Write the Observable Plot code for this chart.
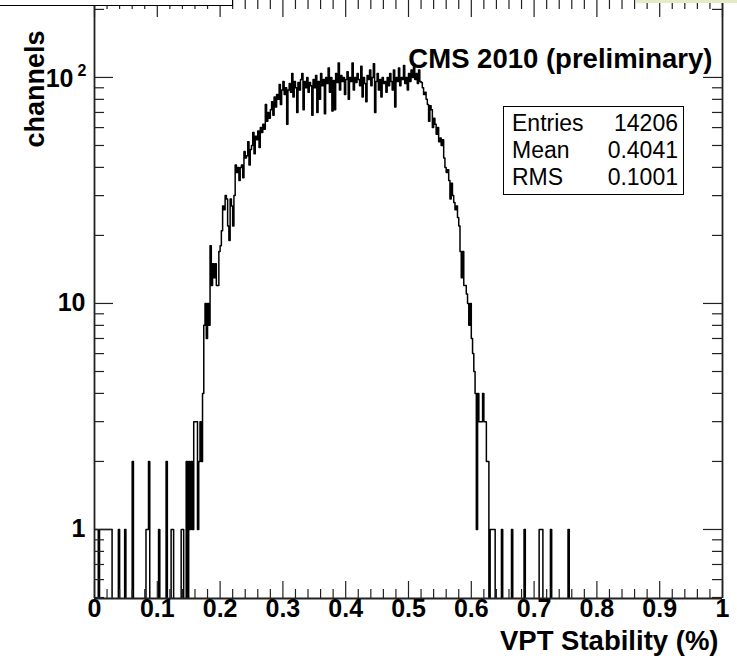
<!DOCTYPE html>
<html>
<head>
<meta charset="utf-8">
<script src="https://cdn.jsdelivr.net/npm/d3@7"></script>
<script src="https://cdn.jsdelivr.net/npm/@observablehq/plot@0.6"></script>
<style>
  html, body { margin: 0; padding: 0; background: #fff; }
  #chart { position: relative; width: 737px; height: 668px; overflow: hidden; font-family: "Liberation Sans", Arial, sans-serif; }
  #chart svg { position: absolute; left: 0; top: 0; }
  .stats { position: absolute; left: 503px; top: 106px; width: 179px; height: 84px; border: 1.5px solid #000; background: #fff; padding: 3px 0 0 0; box-sizing: content-box; }
  .stats .row { display: flex; justify-content: space-between; height: 27px; line-height: 27px; font-size: 23px; padding: 0 5px 0 8px; }
  .namebox { position: absolute; left: -2px; top: -40px; width: 233px; height: 44px; border: 1.5px solid #000; background: #fff; }
  .corner { position: absolute; left: 636px; top: 0; width: 101px; height: 3px; background: #e6eac6; }
</style>
</head>
<body>
<div id="chart"></div>
<script>
// ---------------- data ----------------
const binWidth = 0.002;           // 500 bins on [0, 1]
const nBins = 500;

// sparse low tail: [bin start, channels]
const lowTail = [
  [0.000, 1], [0.002, 1], [0.004, 1], [0.008, 1], [0.010, 1], [0.012, 1], [0.014, 1],
  [0.016, 1], [0.018, 1], [0.020, 1], [0.022, 1], [0.024, 1], [0.026, 1],
  [0.038, 1], [0.048, 1], [0.060, 2], [0.082, 1], [0.084, 1], [0.086, 2],
  [0.102, 1], [0.114, 2], [0.122, 1], [0.124, 1], [0.138, 1], [0.140, 1], [0.146, 2]
];

// main body, consecutive bins starting at coreStart
const coreStart = 0.150;
const coreCounts = [
  2, 1, 2, 1, 3, 3, 3, 1, 2, 3,
  2, 4, 8, 10, 7, 10, 8, 18, 12, 15,
  13, 15, 12, 12, 17, 18, 21, 27, 26, 30,
  29, 22, 19, 29, 27, 22, 30, 41, 38, 40,
  35, 40, 41, 36, 47, 44, 45, 52, 41, 48,
  50, 57, 46, 55, 53, 58, 49, 60, 57, 62,
  59, 76, 64, 70, 66, 72, 78, 68, 82, 74,
  84, 80, 93, 76, 88, 96, 84, 90, 62, 88,
  94, 86, 104, 82, 96, 90, 70, 95, 88, 98,
  104, 72, 96, 90, 100, 86, 95, 92, 68, 98,
  90, 102, 70, 96, 80, 104, 92, 98, 69, 100,
  94, 110, 86, 100, 71, 97, 72, 104, 95, 116,
  88, 102, 96, 100, 84, 98, 106, 80, 100, 96,
  116, 88, 100, 95, 104, 98, 92, 112, 82, 100,
  94, 78, 102, 98, 108, 92, 100, 115, 70, 96,
  104, 88, 98, 82, 100, 94, 96, 86, 100, 92,
  104, 96, 88, 108, 74, 100, 96, 110, 92, 100,
  98, 113, 94, 100, 88, 104, 96, 108, 100, 115,
  98, 104, 94, 108, 96, 95, 90, 84, 86, 80,
  76, 64, 75, 72, 60, 66, 62, 56, 60, 52,
  54, 50, 53, 44, 40, 38, 39, 35, 29, 34,
  30, 28, 26, 27, 24, 22, 17, 13, 17, 12,
  12, 11, 10, 8, 10, 7, 6, 5, 4, 1,
  4, 3, 3, 3, 4, 3, 3, 2, 2, 0,
  1, 1, 1, 1, 0
];

// sparse high tail
const highTail = [
  [0.648, 1], [0.664, 1], [0.684, 1], [0.708, 1], [0.710, 1], [0.712, 1], [0.726, 1], [0.754, 1]
];

const xTickValues = [0, 0.1, 0.2, 0.3, 0.4, 0.5, 0.6, 0.7, 0.8, 0.9, 1];
const xTickLabels = ["0", "0.1", "0.2", "0.3", "0.4", "0.5", "0.6", "0.7", "0.8", "0.9", "1"];
const yTickValues = [1, 10, 100];
const yTickMantissas = ["1", "10", "10"];
const yTickExponents = ["", "", "2"];

const statsLabels = ["Entries", "Mean", "RMS"];
const statsValues = ["14206", "0.4041", "0.1001"];

const titleText = "CMS 2010 (preliminary)";
const xTitle = "VPT Stability (%)";
const yTitle = "channels";

// ---------------- layout ----------------
const W = 737, H = 668;
const mL = 94, mR = 15, mT = 0, mB = 70;
const plotH = H - mT - mB;
const yMin = 0.495, yMax = 219;
const decPerPx = Math.log10(yMax / yMin) / plotH;
const yUp = px => yMin * Math.pow(10, px * decPerPx);
const yDown = px => yMax / Math.pow(10, px * decPerPx);
const pxX = px => px / (W - mL - mR);

// ---------------- build histogram ----------------
const counts = new Array(nBins).fill(0);
for (const [x, c] of lowTail) counts[Math.round(x / binWidth)] = c;
coreCounts.forEach((c, k) => { counts[Math.round(coreStart / binWidth) + k] = c; });
for (const [x, c] of highTail) counts[Math.round(x / binWidth)] = c;

const floorVal = 1e-3;
const steps = counts.map((c, i) => ({x: i * binWidth, y: c > 0 ? c : floorVal}));
steps.push({x: nBins * binWidth, y: floorVal});

const xMinor = d3.range(0, 51).map(i => i * 0.02).filter(v => Math.abs(v * 10 - Math.round(v * 10)) > 1e-6);
const yMinor = [];
for (const e of [0.1, 1, 10, 100]) for (let m = 2; m <= 9; m++) { const v = m * e; if (v >= yMin && v <= yMax) yMinor.push(v); }

const expTicks = yTickValues.filter((d, i) => yTickExponents[i]);

const font = "'Liberation Sans', Arial, Helvetica, sans-serif";
const tickColor = "#222";

const plot = Plot.plot({
  width: W, height: H,
  marginLeft: mL, marginRight: mR, marginTop: mT, marginBottom: mB,
  x: {domain: [0, 1], axis: null},
  y: {type: "log", domain: [yMin, yMax], axis: null},
  style: {fontFamily: font, background: "transparent", overflow: "visible", color: "#000"},
  marks: [
    Plot.line(steps, {x: "x", y: "y", curve: "step-after", stroke: "#000", strokeWidth: 1.5, clip: true}),
    // frame edges
    Plot.ruleX([0, 1], {stroke: tickColor, strokeWidth: 1.8}),
    Plot.ruleY([yMin], {stroke: tickColor, strokeWidth: 1.8}),
    // x ticks (bottom and top, inward)
    Plot.ruleX(xTickValues, {y1: yMin, y2: yUp(17), stroke: tickColor, strokeWidth: 1.2}),
    Plot.ruleX(xMinor, {y1: yMin, y2: yUp(9), stroke: tickColor, strokeWidth: 1.2}),
    Plot.ruleX(xTickValues, {y1: yDown(17), y2: yMax, stroke: tickColor, strokeWidth: 1.2}),
    Plot.ruleX(xMinor, {y1: yDown(9), y2: yMax, stroke: tickColor, strokeWidth: 1.2}),
    // y ticks (left and right, inward)
    Plot.ruleY(yTickValues, {x1: 0, x2: pxX(19), stroke: tickColor, strokeWidth: 1.2}),
    Plot.ruleY(yMinor, {x1: 0, x2: pxX(10), stroke: tickColor, strokeWidth: 1.2}),
    Plot.ruleY(yTickValues, {x1: 1 - pxX(19), x2: 1, stroke: tickColor, strokeWidth: 1.2}),
    Plot.ruleY(yMinor, {x1: 1 - pxX(10), x2: 1, stroke: tickColor, strokeWidth: 1.2}),
    // tick labels
    Plot.text(xTickValues, {x: d => d, frameAnchor: "bottom", dy: 18, text: (d, i) => xTickLabels[i],
      fontSize: 25, fontWeight: "bold"}),
    Plot.text(yTickValues, {y: d => d, frameAnchor: "left", dx: -9, textAnchor: "end",
      text: (d, i) => yTickExponents[i] ? "" : yTickMantissas[i], fontSize: 25, fontWeight: "bold"}),
    Plot.text(expTicks, {y: d => d, frameAnchor: "left", dx: -21, dy: 2, textAnchor: "end",
      text: d => yTickMantissas[yTickValues.indexOf(d)], fontSize: 25, fontWeight: "bold"}),
    Plot.text(expTicks, {y: d => d, frameAnchor: "left", dx: -8, dy: -7, textAnchor: "end",
      text: d => yTickExponents[yTickValues.indexOf(d)], fontSize: 16, fontWeight: "bold"}),
    // titles
    Plot.text([xTitle], {frameAnchor: "bottom-right", dx: -4, dy: 51, textAnchor: "end", text: d => d,
      fontSize: 27.5, fontWeight: "bold"}),
    Plot.text([yTitle], {frameAnchor: "top-left", dx: -70, dy: 30, rotate: -90, textAnchor: "end", text: d => d,
      fontSize: 27, fontWeight: "bold"}),
    Plot.text([titleText], {frameAnchor: "top-right", dx: -10, dy: 48, textAnchor: "end", text: d => d,
      fontSize: 27.5, fontWeight: "bold"})
  ]
});

const chart = document.getElementById("chart");
chart.appendChild(plot);

const nameBox = document.createElement("div");
nameBox.className = "namebox";
chart.appendChild(nameBox);
const corner = document.createElement("div");
corner.className = "corner";
chart.appendChild(corner);

const stats = document.createElement("div");
stats.className = "stats";
statsLabels.forEach((lab, i) => {
  const row = document.createElement("div");
  row.className = "row";
  const a = document.createElement("span"); a.textContent = lab;
  const b = document.createElement("span"); b.textContent = statsValues[i];
  row.appendChild(a); row.appendChild(b);
  stats.appendChild(row);
});
chart.appendChild(stats);
</script>
</body>
</html>
